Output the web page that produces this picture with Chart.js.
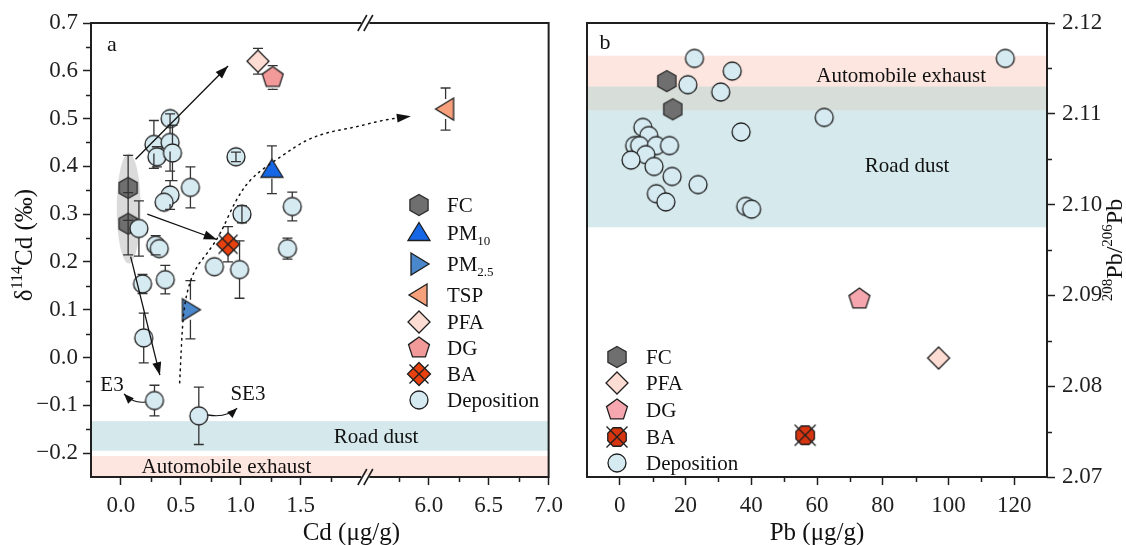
<!DOCTYPE html>
<html>
<head>
<meta charset="utf-8">
<title>Cd and Pb isotope composition</title>
<script src="https://cdn.jsdelivr.net/npm/chart.js@4.4.1/dist/chart.umd.min.js"></script>
<style>
  body { margin: 0; background: #fff; }
  #wrap { position: relative; width: 1126px; height: 545px; }
  #wrap canvas { position: absolute; top: 0; }
  #chartA { left: 0; }
  #chartB { left: 570px; }
</style>
</head>
<body>
<div id="wrap">
  <canvas id="chartA" width="570" height="545"></canvas>
  <canvas id="chartB" width="556" height="545"></canvas>
</div>
<script>
const SERIF = '"Liberation Serif", "Times New Roman", serif';
const INK = '#1f1f1f';

// ---- panel a: Cd (ug/g) vs d114Cd (permil) ----
const fcCd = [0.06, 0.06];
const fcD114 = [0.355, 0.28];
const fcErr = [0.068, 0.065];

const pm10Cd = [1.26];
const pm10D114 = [0.393];
const pm10Err = [0.05];

const pm25Cd = [0.58];
const pm25D114 = [0.10];
const pm25Err = [0.061];

const tspCd = [6.14];
const tspD114 = [0.52];
const tspErr = [0.044];

const pfaCd = [1.144];
const pfaD114 = [0.62];
const pfaErr = [0.027];

const dgCd = [1.267];
const dgD114 = [0.586];
const dgErr = [0.025];

const baCd = [0.894];
const baD114 = [0.237];
const baErr = [0.037];

const depCd   = [0.41, 0.275, 0.41, 0.30, 0.43, 0.41, 0.36, 0.58, 0.15, 0.29, 0.32, 1.01, 1.43, 1.39, 0.99, 0.78, 0.18, 0.37, 0.19, 0.28, 0.65, 0.96];
const depD114 = [0.50, 0.446, 0.45, 0.42, 0.428, 0.34, 0.325, 0.356, 0.27, 0.235, 0.228, 0.30, 0.316, 0.228, 0.184, 0.19, 0.154, 0.163, 0.041, -0.09, -0.122, 0.42];
const depErr  = [0, 0.05, 0.06, 0.021, 0.058, 0.03, 0, 0.043, 0.058, 0.02, 0, 0.018, 0.03, 0.022, 0.06, 0, 0.02, 0.03, 0.052, 0.032, 0.06, 0.01];

const cdTicksLow = [0.0, 0.5, 1.0, 1.5];
const cdTicksHigh = [6.0, 6.5, 7.0];
const d114Ticks = [-0.2, -0.1, 0.0, 0.1, 0.2, 0.3, 0.4, 0.5, 0.6, 0.7];

const roadDustD114 = [-0.195, -0.133];
const exhaustD114 = [-0.25, -0.206];

// annotation paths (data coordinates)
const arrowToPfa = [[0.122, 0.415], [0.894, 0.61]];
const arrowToBa = [[0.22, 0.30], [0.80, 0.247]];
const arrowDown = [[0.081, 0.211], [0.325, -0.037]];
const dustPath = [[0.49, -0.053], [0.50, 0.0], [0.512, 0.06], [0.53, 0.11], [0.57, 0.155],
  [0.63, 0.19], [0.72, 0.218], [0.83, 0.258], [0.958, 0.33], [1.092, 0.378], [1.342, 0.422],
  [1.542, 0.455], [1.733, 0.472], [1.958, 0.482], [5.617, 0.497], [5.85, 0.505]];
const e3Curve = [[0.206, -0.093], [0.108, -0.097], [0.025, -0.076]];
const se3Curve = [[0.72, -0.12], [0.88, -0.127], [0.97, -0.106]];

// ---- panel b: Pb (ug/g) vs 208Pb/206Pb ----
const fcPb = [14.3, 16.1];
const fcRatio = [2.1136, 2.1105];
const pfaPb = [97.0];
const pfaRatio = [2.0831];
const dgPb = [72.9];
const dgRatio = [2.0896];
const baPb = [56.4];
const baRatio = [2.0746];
const depPb    = [22.7, 34.2, 20.7, 30.7, 62.2, 36.9, 7.0, 8.8, 4.5, 6.0, 11.1, 15.1, 7.9, 3.4, 10.4, 15.9, 23.8, 11.1, 14.0, 38.3, 40.1, 117.3];
const depRatio = [2.1161, 2.1147, 2.1132, 2.1124, 2.1096, 2.1080, 2.1085, 2.1076, 2.1065, 2.1065, 2.1065, 2.1065, 2.1055, 2.1049, 2.1042, 2.1031, 2.1022, 2.1012, 2.1003, 2.0998, 2.0995, 2.1161];

const pbTicks = [0, 20, 40, 60, 80, 100, 120];
const ratioTicks = [2.07, 2.08, 2.09, 2.10, 2.11, 2.12];

const roadDustRatio = [2.0975, 2.1130];
const exhaustRatio = [2.1104, 2.1164];

// ---- marker images ----
function mk(size, draw) {
  const c = document.createElement('canvas');
  c.width = size; c.height = size;
  const g = c.getContext('2d');
  g.translate(size / 2, size / 2);
  g.lineWidth = 1.3;
  g.strokeStyle = INK;
  draw(g);
  return c;
}
function shape(g, pts, fill) {
  g.beginPath();
  pts.forEach(([x, y], i) => (i ? g.lineTo(x, y) : g.moveTo(x, y)));
  g.closePath();
  g.fillStyle = fill;
  g.fill();
  g.stroke();
}
function ngon(n, r, start) {
  const pts = [];
  for (let i = 0; i < n; i++) {
    const t = start + i * 2 * Math.PI / n;
    pts.push([r * Math.cos(t), r * Math.sin(t)]);
  }
  return pts;
}
function cross(g, r) {
  g.beginPath();
  g.moveTo(-r, -r); g.lineTo(r, r);
  g.moveTo(-r, r); g.lineTo(r, -r);
  g.stroke();
}

const M = {
  dep: mk(24, g => { g.beginPath(); g.arc(0, 0, 9, 0, Math.PI * 2); g.fillStyle = '#d6eaf2'; g.fill(); g.stroke(); }),
  fc: mk(26, g => { g.strokeStyle = '#2e2e2e'; shape(g, ngon(6, 10.5, -Math.PI / 2), '#6f6f6f'); }),
  pm10: mk(26, g => shape(g, [[0, -10.5], [11, 7.5], [-11, 7.5]], '#1667e6')),
  pm25: mk(26, g => shape(g, [[-8, -11], [10, 0], [-8, 11]], '#4a87cb')),
  tsp: mk(26, g => shape(g, [[8, -11], [-10, 0], [8, 11]], '#f6a07c')),
  pfa: mk(26, g => shape(g, [[0, -11], [11, 0], [0, 11], [-11, 0]], '#fddcd3')),
  dgA: mk(26, g => shape(g, ngon(5, 11, -Math.PI / 2), '#f2999a')),
  dgB: mk(26, g => shape(g, ngon(5, 11, -Math.PI / 2), '#f6a6ae')),
  baA: mk(28, g => { shape(g, [[0, -11.5], [11.5, 0], [0, 11.5], [-11.5, 0]], '#e8400e'); cross(g, 9.5); }),
  baB: mk(28, g => { shape(g, ngon(8, 10, Math.PI / 8), '#d7350f'); cross(g, 10.5); })
};

// ---- helpers ----
const zip = (xs, ys) => xs.map((x, i) => ({ x, y: ys[i] }));
const set = (label, xs, ys, marker, xAxisID) => ({
  label, data: zip(xs, ys), xAxisID, pointStyle: marker, pointRadius: 10,
  showLine: false, clip: false
});

function richText(ctx, parts, x, y, size, align) {
  const fontFor = m => `${m === 'n' ? size : Math.round(size * 0.64)}px ${SERIF}`;
  let total = 0;
  parts.forEach(([t, m]) => { ctx.font = fontFor(m); total += ctx.measureText(t).width; });
  let cx = align === 'center' ? x - total / 2 : align === 'right' ? x - total : x;
  ctx.textAlign = 'left';
  ctx.textBaseline = 'alphabetic';
  parts.forEach(([t, m]) => {
    ctx.font = fontFor(m);
    const dy = m === 'sup' ? -size * 0.4 : m === 'sub' ? size * 0.22 : 0;
    ctx.fillText(t, cx, y + dy);
    cx += ctx.measureText(t).width;
  });
}

function arrowHead(ctx, x1, y1, x2, y2, len, half) {
  const t = Math.atan2(y2 - y1, x2 - x1);
  ctx.beginPath();
  ctx.moveTo(x2, y2);
  ctx.lineTo(x2 - len * Math.cos(t) + half * Math.sin(t), y2 - len * Math.sin(t) - half * Math.cos(t));
  ctx.lineTo(x2 - len * Math.cos(t) - half * Math.sin(t), y2 - len * Math.sin(t) + half * Math.cos(t));
  ctx.closePath();
  ctx.fill();
}

function errBars(ctx, xs, ys, errs, px, py, gap) {
  ctx.beginPath();
  xs.forEach((xv, i) => {
    if (!errs[i]) return;
    const x = px(xv), y = py(ys[i]);
    const top = py(ys[i] + errs[i]), bot = py(ys[i] - errs[i]);
    if (y - top > gap) {
      ctx.moveTo(x, top); ctx.lineTo(x, y - gap);
      ctx.moveTo(x, y + gap); ctx.lineTo(x, bot);
    } else {
      ctx.moveTo(x, top); ctx.lineTo(x, bot);
    }
    ctx.moveTo(x - 5, top); ctx.lineTo(x + 5, top);
    ctx.moveTo(x - 5, bot); ctx.lineTo(x + 5, bot);
  });
  ctx.stroke();
}

const near = (a, b) => Math.abs(a - b) < 1e-6;
function minorTicks(chart, id, step, majors, skip) {
  const s = chart.scales[id], ctx = chart.ctx;
  const n0 = Math.ceil(s.min / step - 1e-9), n1 = Math.floor(s.max / step + 1e-9);
  ctx.beginPath();
  for (let n = n0; n <= n1; n++) {
    const v = n * step;
    if (near(v, s.min) || near(v, s.max) || majors.some(m => near(m, v)) || (skip && skip(v))) continue;
    const p = Math.round(s.getPixelForValue(v)) + 0.5;
    if (s.isHorizontal()) { ctx.moveTo(p, s.top); ctx.lineTo(p, s.top + 5); }
    else if (s.position === 'left') { ctx.moveTo(s.right, p); ctx.lineTo(s.right - 5, p); }
    else { ctx.moveTo(s.left, p); ctx.lineTo(s.left + 5, p); }
  }
  ctx.strokeStyle = INK;
  ctx.lineWidth = 1.5;
  ctx.stroke();
}

function frame(ctx, a) {
  ctx.strokeStyle = INK;
  ctx.lineWidth = 2;
  ctx.strokeRect(a.left, a.top, a.right - a.left, a.bottom - a.top);
}

function legend(ctx, items, mx, tx, rows) {
  ctx.fillStyle = '#111';
  items.forEach(([marker, parts], i) => {
    ctx.drawImage(marker, mx - marker.width / 2, rows[i] - marker.height / 2);
    richText(ctx, parts, tx, rows[i] + 7, 21, 'left');
  });
}

const tickFont = { family: SERIF, size: 23 };
const axisGrid = { drawOnChartArea: false, tickLength: 8, color: INK, tickWidth: 1.5 };
const fmtSigned = d => v => (v < 0 ? '\u2212' : '') + Math.abs(v).toFixed(d);

// ---- panel a plugin ----
const panelA = {
  id: 'panelA',
  beforeDatasetsDraw(chart) {
    const { ctx, chartArea: a, scales } = chart;
    const py = v => scales.y.getPixelForValue(v);
    const px = v => (v > 4 ? scales.x2 : scales.x1).getPixelForValue(v);
    ctx.save();
    ctx.fillStyle = '#d5e9ec';
    ctx.fillRect(a.left, py(roadDustD114[1]), a.right - a.left, py(roadDustD114[0]) - py(roadDustD114[1]));
    ctx.fillStyle = '#fde6df';
    ctx.fillRect(a.left, py(exhaustD114[1]), a.right - a.left, py(exhaustD114[0]) - py(exhaustD114[1]));
    ctx.fillStyle = '#111';
    const w = a.right - a.left;
    richText(ctx, [['Road dust', 'n']], a.left + w * 0.623, py((roadDustD114[0] + roadDustD114[1]) / 2) + 7, 21, 'center');
    richText(ctx, [['Automobile exhaust', 'n']], a.left + w * 0.296, py((exhaustD114[0] + exhaustD114[1]) / 2) + 7, 21, 'center');
    // grey cloud around the FC samples
    ctx.fillStyle = 'rgba(190,190,190,0.55)';
    ctx.beginPath();
    ctx.ellipse(px(0.065), py(0.312), px(0.165) - px(0.065), py(0.312) - py(0.427), 0, 0, Math.PI * 2);
    ctx.fill();
    ctx.restore();
  },
  afterDatasetsDraw(chart) {
    const { ctx, scales } = chart;
    const py = v => scales.y.getPixelForValue(v);
    const px = v => (v > 4 ? scales.x2 : scales.x1).getPixelForValue(v);
    ctx.save();
    ctx.strokeStyle = '#333';
    ctx.lineWidth = 1.3;
    errBars(ctx, fcCd, fcD114, fcErr, px, py, 0);
    errBars(ctx, depCd, depD114, depErr, px, py, 9);
    errBars(ctx, pm10Cd, pm10D114, pm10Err, px, py, 9);
    errBars(ctx, pm25Cd, pm25D114, pm25Err, px, py, 10);
    errBars(ctx, tspCd, tspD114, tspErr, px, py, 10);
    errBars(ctx, pfaCd, pfaD114, pfaErr, px, py, 11);
    errBars(ctx, dgCd, dgD114, dgErr, px, py, 11);
    errBars(ctx, baCd, baD114, baErr, px, py, 11);

    // straight arrows from the FC group
    ctx.strokeStyle = '#111';
    ctx.fillStyle = '#111';
    ctx.lineWidth = 1.3;
    [arrowToPfa, arrowToBa, arrowDown].forEach(([[x1, y1], [x2, y2]]) => {
      const a1 = px(x1), b1 = py(y1), a2 = px(x2), b2 = py(y2);
      ctx.beginPath(); ctx.moveTo(a1, b1); ctx.lineTo(a2, b2); ctx.stroke();
      arrowHead(ctx, a1, b1, a2, b2, 13, 4.5);
    });

    // dotted curve to TSP
    const pts = dustPath.map(([x, y]) => [px(x), py(y)]);
    ctx.save();
    ctx.setLineDash([1.5, 4.6]);
    ctx.lineCap = 'round';
    ctx.lineWidth = 1.5;
    ctx.beginPath();
    ctx.moveTo(pts[0][0], pts[0][1]);
    for (let i = 1; i < pts.length - 1; i++) {
      const mx = (pts[i][0] + pts[i + 1][0]) / 2, my = (pts[i][1] + pts[i + 1][1]) / 2;
      ctx.quadraticCurveTo(pts[i][0], pts[i][1], mx, my);
    }
    const last = pts[pts.length - 1], prev = pts[pts.length - 2];
    ctx.lineTo(last[0] - 10, last[1] + 1);
    ctx.stroke();
    ctx.restore();
    arrowHead(ctx, prev[0], prev[1], last[0], last[1], 14, 4.5);

    // E3 / SE3 curved arrows and labels
    [e3Curve, se3Curve].forEach(c => {
      const p = c.map(([x, y]) => [px(x), py(y)]);
      ctx.beginPath();
      ctx.moveTo(p[0][0], p[0][1]);
      ctx.quadraticCurveTo(p[1][0], p[1][1], p[2][0], p[2][1]);
      ctx.lineWidth = 1.1;
      ctx.stroke();
      arrowHead(ctx, p[1][0], p[1][1], p[2][0], p[2][1], 10, 4);
    });
    richText(ctx, [['E3', 'n']], px(-0.075), py(-0.056) + 7, 21, 'center');
    richText(ctx, [['SE3', 'n']], px(1.06), py(-0.074) + 7, 21, 'center');
    ctx.restore();
  },
  afterDraw(chart) {
    const { ctx, chartArea: a, scales } = chart;
    ctx.save();
    frame(ctx, a);
    minorTicks(chart, 'x1', 0.25, cdTicksLow, v => v > 1.9);
    minorTicks(chart, 'x2', 0.25, cdTicksHigh, v => v < 5.6);
    minorTicks(chart, 'y', 0.05, d114Ticks);
    // axis break marks
    const xb = scales.x1.right;
    [a.top, a.bottom].forEach(y => {
      ctx.fillStyle = '#fff';
      ctx.fillRect(xb - 4, y - 2, 8, 4);
      ctx.beginPath();
      [-3, 3].forEach(o => { ctx.moveTo(xb + o - 4.5, y + 8); ctx.lineTo(xb + o + 4.5, y - 8); });
      ctx.strokeStyle = INK;
      ctx.lineWidth = 1.6;
      ctx.stroke();
    });
    ctx.fillStyle = '#111';
    richText(ctx, [['a', 'n']], a.left + 21, a.top + 28, 22, 'center');
    richText(ctx, [['Cd (\u03bcg/g)', 'n']], a.left + (a.right - a.left) * 0.569, 540, 25, 'center');
    ctx.translate(24, 245);
    ctx.rotate(-Math.PI / 2);
    richText(ctx, [['\u03b4', 'n'], ['114', 'sup'], ['Cd (\u2030)', 'n']], 0, 8, 25, 'center');
    ctx.setTransform(1, 0, 0, 1, 0, 0);
    legend(ctx, [
      [M.fc, [['FC', 'n']]],
      [M.pm10, [['PM', 'n'], ['10', 'sub']]],
      [M.pm25, [['PM', 'n'], ['2.5', 'sub']]],
      [M.tsp, [['TSP', 'n']]],
      [M.pfa, [['PFA', 'n']]],
      [M.dgA, [['DG', 'n']]],
      [M.baA, [['BA', 'n']]],
      [M.dep, [['Deposition', 'n']]]
    ], 419, 447, [205, 233, 264, 295, 322, 348, 374, 400]);
    ctx.restore();
  }
};

new Chart(document.getElementById('chartA'), {
  type: 'scatter',
  data: {
    datasets: [
      set('BA', baCd, baD114, M.baA, 'x1'),
      set('PM10', pm10Cd, pm10D114, M.pm10, 'x1'),
      set('PM2.5', pm25Cd, pm25D114, M.pm25, 'x1'),
      set('TSP', tspCd, tspD114, M.tsp, 'x2'),
      set('PFA', pfaCd, pfaD114, M.pfa, 'x1'),
      set('DG', dgCd, dgD114, M.dgA, 'x1'),
      set('Deposition', depCd, depD114, M.dep, 'x1'),
      set('FC', fcCd, fcD114, M.fc, 'x1')
    ]
  },
  options: {
    responsive: false,
    animation: false,
    events: [],
    layout: { padding: { left: 0, top: 23, right: 20, bottom: 0 } },
    plugins: { legend: { display: false }, tooltip: { enabled: false } },
    scales: {
      x1: {
        type: 'linear', position: 'bottom', stack: 'cd', stackWeight: 2.29,
        min: -0.25, max: 2.04,
        afterBuildTicks: s => { s.ticks = cdTicksLow.map(v => ({ value: v })); },
        afterFit: s => { s.height = 68; },
        ticks: { callback: fmtSigned(1), font: tickFont, color: INK, padding: 7, maxRotation: 0, autoSkip: false },
        grid: axisGrid, border: { display: false }
      },
      x2: {
        type: 'linear', position: 'bottom', stack: 'cd', stackWeight: 1.53,
        min: 5.47, max: 7.0,
        afterBuildTicks: s => { s.ticks = cdTicksHigh.map(v => ({ value: v })); },
        afterFit: s => { s.height = 68; },
        ticks: { callback: fmtSigned(1), font: tickFont, color: INK, padding: 7, maxRotation: 0, autoSkip: false },
        grid: axisGrid, border: { display: false }
      },
      y: {
        type: 'linear', position: 'left', min: -0.25, max: 0.7,
        afterBuildTicks: s => { s.ticks = d114Ticks.map(v => ({ value: v })); },
        afterFit: s => { s.width = 91; },
        ticks: { callback: fmtSigned(1), font: tickFont, color: INK, padding: 5, autoSkip: false },
        grid: axisGrid, border: { display: false }
      }
    }
  },
  plugins: [panelA]
});

// ---- panel b plugin ----
const panelB = {
  id: 'panelB',
  beforeDatasetsDraw(chart) {
    const { ctx, chartArea: a, scales } = chart;
    const py = v => scales.y.getPixelForValue(v);
    const w = a.right - a.left;
    ctx.save();
    ctx.fillStyle = '#d6e9ec';
    ctx.fillRect(a.left, py(roadDustRatio[1]), w, py(roadDustRatio[0]) - py(roadDustRatio[1]));
    ctx.fillStyle = '#fde6df';
    ctx.fillRect(a.left, py(exhaustRatio[1]), w, py(exhaustRatio[0]) - py(exhaustRatio[1]));
    ctx.fillStyle = '#d7ddd9';
    ctx.fillRect(a.left, py(roadDustRatio[1]), w, py(exhaustRatio[0]) - py(roadDustRatio[1]));
    ctx.fillStyle = '#111';
    richText(ctx, [['Automobile exhaust', 'n']], a.left + w * 0.683, py(2.1143) + 7, 21, 'center');
    richText(ctx, [['Road dust', 'n']], a.left + w * 0.696, py(2.1044) + 7, 21, 'center');
    ctx.restore();
  },
  afterDraw(chart) {
    const { ctx, chartArea: a } = chart;
    ctx.save();
    frame(ctx, a);
    minorTicks(chart, 'x', 10, pbTicks);
    minorTicks(chart, 'y', 0.005, ratioTicks);
    ctx.fillStyle = '#111';
    richText(ctx, [['b', 'n']], a.left + 18, a.top + 26, 22, 'center');
    richText(ctx, [['Pb (\u03bcg/g)', 'n']], a.left + (a.right - a.left) * 0.5, 540, 25, 'center');
    ctx.translate(544, 250);
    ctx.rotate(-Math.PI / 2);
    richText(ctx, [['208', 'sup'], ['Pb/', 'n'], ['206', 'sup'], ['Pb', 'n']], 0, 8, 24, 'center');
    ctx.setTransform(1, 0, 0, 1, 0, 0);
    legend(ctx, [
      [M.fc, [['FC', 'n']]],
      [M.pfa, [['PFA', 'n']]],
      [M.dgB, [['DG', 'n']]],
      [M.baB, [['BA', 'n']]],
      [M.dep, [['Deposition', 'n']]]
    ], 47, 76, [357, 383, 410, 437, 463]);
    ctx.restore();
  }
};

new Chart(document.getElementById('chartB'), {
  type: 'scatter',
  data: {
    datasets: [
      set('BA', baPb, baRatio, M.baB, 'x'),
      set('PFA', pfaPb, pfaRatio, M.pfa, 'x'),
      set('DG', dgPb, dgRatio, M.dgB, 'x'),
      set('FC', fcPb, fcRatio, M.fc, 'x'),
      set('Deposition', depPb, depRatio, M.dep, 'x')
    ]
  },
  options: {
    responsive: false,
    animation: false,
    events: [],
    layout: { padding: { left: 17, top: 23, right: 0, bottom: 0 } },
    plugins: { legend: { display: false }, tooltip: { enabled: false } },
    scales: {
      x: {
        type: 'linear', position: 'bottom', min: -10, max: 130,
        afterBuildTicks: s => { s.ticks = pbTicks.map(v => ({ value: v })); },
        afterFit: s => { s.height = 68; },
        ticks: { callback: v => String(v), font: tickFont, color: INK, padding: 7, maxRotation: 0, autoSkip: false },
        grid: axisGrid, border: { display: false }
      },
      y: {
        type: 'linear', position: 'right', min: 2.07, max: 2.12,
        afterBuildTicks: s => { s.ticks = ratioTicks.map(v => ({ value: v })); },
        afterFit: s => { s.width = 79; },
        ticks: { callback: v => v.toFixed(2), font: tickFont, color: INK, padding: 7, autoSkip: false },
        grid: axisGrid, border: { display: false }
      }
    }
  },
  plugins: [panelB]
});
</script>
</body>
</html>
